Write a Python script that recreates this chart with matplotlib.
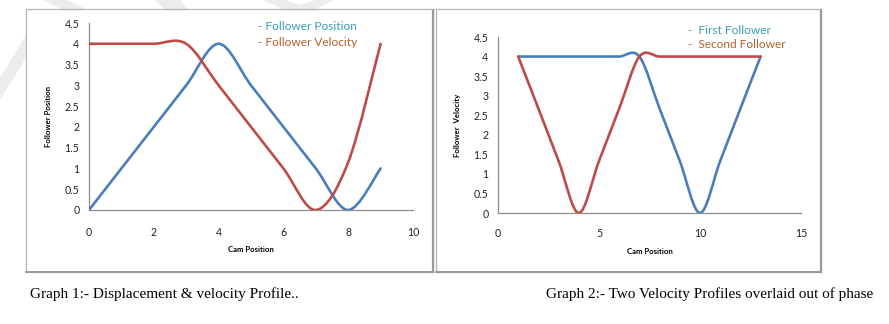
import numpy as np
import matplotlib
matplotlib.use("Agg")
import matplotlib.pyplot as plt
from matplotlib.path import Path
from matplotlib.patches import PathPatch, Rectangle, Polygon

# graph 1 : displacement & velocity profile
cam1 = [0, 1, 2, 3, 4, 5, 6, 7, 8, 9]
position1 = [0, 1, 2, 3, 4, 3, 2, 1, 0, 1]
velocity1 = [4, 4, 4, 4, 3, 2, 1, 0, 1.15, 4]

# graph 2 : two velocity profiles out of phase
cam2 = [1, 2, 3, 4, 5, 6, 7, 8, 9, 10, 11, 12, 13]
first2 = [4, 4, 4, 4, 4, 4, 4, 2.67, 1.33, 0, 1.33, 2.67, 4]
second2 = [4, 2.67, 1.33, 0, 1.33, 2.67, 4, 4, 4, 4, 4, 4, 4]

ticks1_x = [0, 2, 4, 6, 8, 10]
ticks2_x = [0, 5, 10, 15]
ticks_y = [0, 0.5, 1, 1.5, 2, 2.5, 3, 3.5, 4, 4.5]

BLUE = '#4a7ebb'
RED = '#be4b48'
TEAL = '#3b9ab2'
BROWN = '#b0612c'
W, H = 889, 324


def smooth_line(ax, xs, ys, color):
    # excel style smoothed line : bezier through the points
    P = np.column_stack([xs, ys]).astype(float)
    n = len(P)
    verts = [P[0]]
    codes = [Path.MOVETO]
    for i in range(n - 1):
        p0 = P[max(i - 1, 0)]
        p1 = P[i]
        p2 = P[i + 1]
        p3 = P[min(i + 2, n - 1)]
        c1 = p1 + (p2 - p0) / 6
        c2 = p2 - (p3 - p1) / 6
        verts += [c1, c2, p2]
        codes += [Path.CURVE4] * 3
    patch = PathPatch(Path(verts, codes), fill=False, edgecolor=color,
                      lw=1.9, transform=ax.transData, capstyle='round', zorder=3)
    ax.add_patch(patch)


def px_axes(left, right, top, bottom):
    ax = fig.add_axes([left / W, 1 - bottom / H, (right - left) / W, (bottom - top) / H])
    ax.set_zorder(5)
    return ax


def style(ax, xmax, xticks, ylabel, xpad, xlabpad):
    ax.set_xlim(0, xmax)
    ax.set_ylim(0, 4.5)
    ax.set_xticks(xticks)
    ax.set_yticks(ticks_y)
    ax.set_yticklabels([('%g' % v) for v in ticks_y])
    for s in ['top', 'right']:
        ax.spines[s].set_visible(False)
    for s in ['left', 'bottom']:
        ax.spines[s].set_color('#8c8c8c')
        ax.spines[s].set_linewidth(0.9)
    ax.tick_params(axis='y', length=0, pad=7, labelsize=7.6, labelcolor='#222222')
    ax.tick_params(axis='x', length=0, pad=xpad, labelsize=7.6, labelcolor='#222222')
    ax.set_facecolor('none')
    for lab in ax.get_xticklabels() + ax.get_yticklabels():
        lab.set_family('Lato')
    ax.set_xlabel('Cam Position', family='Lato', fontsize=5.6, fontweight='bold', labelpad=xlabpad)
    ax.set_ylabel(ylabel, family='Lato', fontsize=5.6, fontweight='bold', labelpad=9)


fig = plt.figure(figsize=(W / 100, H / 100), dpi=100)

# faint watermark strokes, mostly hidden behind the white boxes
for pts in [[(0, 78), (0, 100), (26, 58), (26, 35)],
            [(43, 0), (67, 0), (87, 10), (63, 10)],
            [(155, 0), (180, 0), (188, 10), (165, 10)],
            [(263, 0), (285, 0), (300, 5), (315, 0), (333, 0), (315, 10), (285, 10)]]:
    fig.patches.append(Polygon([(x / W, 1 - y / H) for x, y in pts], closed=True,
                               transform=fig.transFigure, facecolor='#ececec',
                               edgecolor='none', zorder=0))

# chart boxes
for l, r in [(26, 433), (436, 821)]:
    fig.patches.append(Rectangle((l / W, 1 - 272 / H), (r - l) / W, 263 / H,
                                 transform=fig.transFigure, facecolor='white',
                                 edgecolor='#b4b4b4', lw=0.9, zorder=1))
    fig.lines.append(plt.Line2D([r / W, r / W], [1 - 272 / H, 1 - 10 / H],
                                transform=fig.transFigure, color='#9a9a9a', lw=1.6, zorder=2))
    fig.lines.append(plt.Line2D([l / W, r / W], [1 - 272 / H, 1 - 272 / H],
                                transform=fig.transFigure, color='#9a9a9a', lw=1.4, zorder=2))

ax1 = px_axes(89, 413, 23, 210)
style(ax1, 10, ticks1_x, 'Follower Position', 12, 6)
smooth_line(ax1, cam1, position1, BLUE)
smooth_line(ax1, cam1, velocity1, RED)
ax1.text(258 / W, 1 - 27 / H, '- Follower Position', transform=fig.transFigure,
         family='Lato', fontsize=8.6, color=TEAL, va='center')
ax1.text(258 / W, 1 - 43 / H, '- Follower Velocity', transform=fig.transFigure,
         family='Lato', fontsize=8.6, color=BROWN, va='center')

ax2 = px_axes(498, 801, 37, 213)
style(ax2, 15, ticks2_x, 'Follower  Velocity', 10.5, 7)
smooth_line(ax2, cam2, first2, BLUE)
smooth_line(ax2, cam2, second2, RED)
ax2.text(688 / W, 1 - 30 / H, '-  First Follower', transform=fig.transFigure,
         family='Lato', fontsize=8.6, color=TEAL, va='center')
ax2.text(688 / W, 1 - 45 / H, '-  Second Follower', transform=fig.transFigure,
         family='Lato', fontsize=8.6, color=BROWN, va='center')

# captions under the boxes
fig.text(30 / W, 1 - 294 / H, 'Graph 1:- Displacement & velocity Profile..',
         family='Liberation Serif', fontsize=11, va='center')
fig.text(873 / W, 1 - 294 / H, 'Graph 2:- Two Velocity Profiles overlaid out of phase',
         family='Liberation Serif', fontsize=11, va='center', ha='right')

fig.savefig('out.png', dpi=100)
